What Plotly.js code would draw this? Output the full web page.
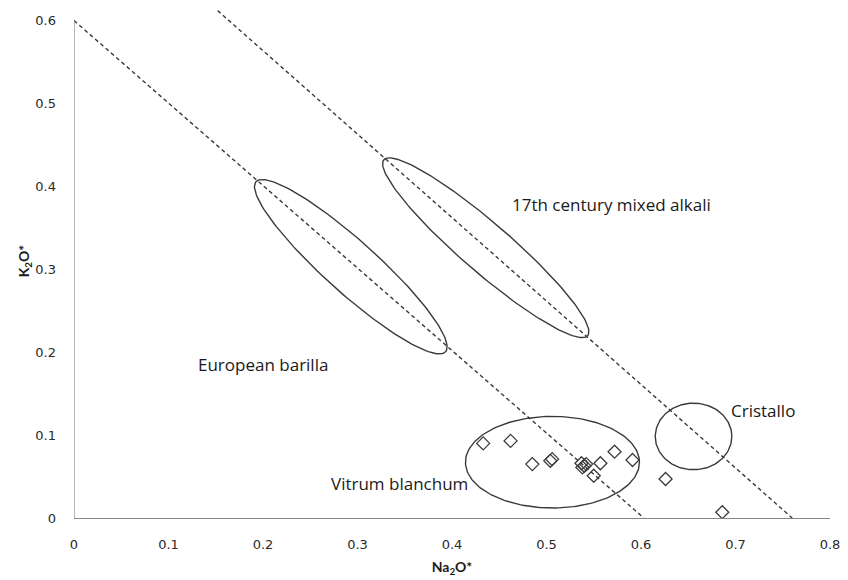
<!DOCTYPE html>
<html>
<head>
<meta charset="utf-8">
<script src="https://cdn.plot.ly/plotly-3.0.1.min.js"></script>
<style>html,body{margin:0;padding:0;background:#fff;}#chart{width:848px;height:580px;}</style>
</head>
<body>
<div id="chart"></div>
<script>
// Sample points (Na2O*, K2O*)
const sampleNa = [0.433, 0.462, 0.485, 0.504, 0.506, 0.537, 0.540, 0.542, 0.538, 0.557, 0.550, 0.572, 0.591, 0.626, 0.686];
const sampleK  = [0.090, 0.093, 0.065, 0.069, 0.071, 0.066, 0.063, 0.065, 0.061, 0.066, 0.051, 0.080, 0.070, 0.047, 0.007];

// Dashed reference lines (endpoints)
const line1Na = [0, 0.603];
const line1K  = [0.6, 0];
const line2Na = [0.152, 0.760];
const line2K  = [0.612, 0];

// Group ellipses: centre (data), semi-axes (screen px), rotation (deg, clockwise on screen)
const groupNames = ["European barilla", "17th century mixed alkali", "Vitrum blanchum", "Cristallo"];
const ellCx    = [0.2929, 0.4357, 0.5063, 0.6556];
const ellCy    = [0.3031, 0.3260, 0.0673, 0.0984];
const ellA     = [127.3, 134.6, 87, 38.3];
const ellB     = [26, 24.5, 45.8, 33.3];
const ellAngle = [41.9, 40.8, 0, 0];

// Label positions (data)
const labelX = [0.2005, 0.5685, 0.344, 0.7286];
const labelY = [0.185, 0.378, 0.0414, 0.1298];

const W = 848, H = 580;
const M = {l: 74, r: 18, t: 4, b: 62};
const xRange = [0, 0.8], yRange = [0, 0.62];
const sx = (W - M.l - M.r) / (xRange[1] - xRange[0]);
const sy = (H - M.t - M.b) / (yRange[1] - yRange[0]);

const lineCol = '#3a3a3a';
const traces = [];

traces.push({x: line1Na, y: line1K, mode: 'lines', line: {color: lineCol, width: 1.4, dash: '4px,3px'}, hoverinfo: 'skip', showlegend: false, cliponaxis: false});
traces.push({x: line2Na, y: line2K, mode: 'lines', line: {color: lineCol, width: 1.4, dash: '4px,3px'}, hoverinfo: 'skip', showlegend: false, cliponaxis: false});

for (let i = 0; i < groupNames.length; i++) {
  const xs = [], ys = [];
  const th = ellAngle[i] * Math.PI / 180;
  for (let k = 0; k <= 180; k++) {
    const t = 2 * Math.PI * k / 180;
    const u = ellA[i] * Math.cos(t), v = ellB[i] * Math.sin(t);
    const px = u * Math.cos(th) - v * Math.sin(th);
    const py = u * Math.sin(th) + v * Math.cos(th); // screen-down
    xs.push(ellCx[i] + px / sx);
    ys.push(ellCy[i] - py / sy);
  }
  traces.push({x: xs, y: ys, mode: 'lines', line: {color: lineCol, width: 1.4}, hoverinfo: 'skip', showlegend: false, name: groupNames[i]});
}

traces.push({x: sampleNa, y: sampleK, mode: 'markers', marker: {symbol: 'diamond-open', size: 10, color: lineCol, line: {width: 1.3, color: lineCol}}, showlegend: false});

const annotations = groupNames.map((n, i) => ({
  x: labelX[i], y: labelY[i], xref: 'x', yref: 'y', text: n, showarrow: false,
  font: {family: 'Open Sans, sans-serif', size: 17, color: '#1a1a1a'}, xanchor: 'center', yanchor: 'middle'
}));

const layout = {
  width: W, height: H,
  margin: M,
  paper_bgcolor: '#fff', plot_bgcolor: '#fff',
  showlegend: false,
  xaxis: {
    range: xRange, dtick: 0.1, tick0: 0, showgrid: false, zeroline: false,
    showline: true, linecolor: '#868686', linewidth: 1.2, ticks: '',
    ticklabelstandoff: 14,
    tickfont: {family: 'DejaVu Sans, Verdana, sans-serif', size: 13, color: '#2a2a2a'},
    title: {text: '<b>Na<sub>2</sub>O*</b>', font: {family: 'Lato, sans-serif', size: 14, color: '#1a1a1a'}, standoff: 11}
  },
  yaxis: {
    range: yRange, tickvals: [0, 0.1, 0.2, 0.3, 0.4, 0.5, 0.6], ticktext: ['0', '0.1', '0.2', '0.3', '0.4', '0.5', '0.6'],
    showgrid: false, zeroline: false, showline: false, ticks: '',
    ticklabelstandoff: 17,
    tickfont: {family: 'DejaVu Sans, Verdana, sans-serif', size: 13, color: '#2a2a2a'},
    title: {text: '<b>K<sub>2</sub>O*</b>', font: {family: 'Lato, sans-serif', size: 14, color: '#1a1a1a'}, standoff: 2}
  },
  shapes: [
    {type: 'line', xref: 'x', yref: 'y', x0: 0, x1: 0, y0: 0, y1: 0.6, line: {color: '#868686', width: 1.2}}
  ],
  annotations: annotations
};

Plotly.newPlot('chart', traces, layout, {staticPlot: true, displayModeBar: false});
</script>
</body>
</html>
